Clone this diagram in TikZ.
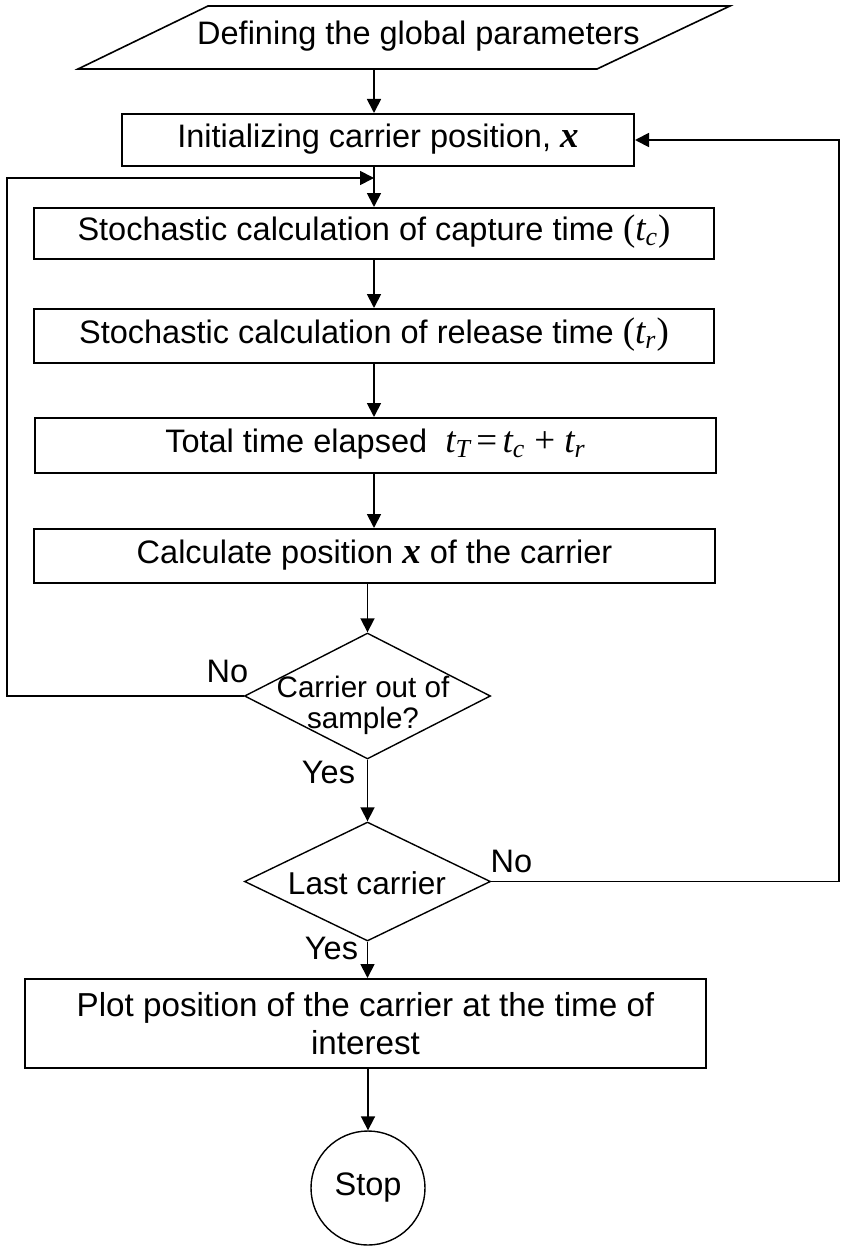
\documentclass[tikz,border=0pt]{standalone}
\usepackage{fontspec}
\setmainfont{Liberation Sans}
\newfontfamily\tnr{Liberation Serif}
\usetikzlibrary{arrows.meta,shapes.geometric}
% serif type used for the variables and operators
\newcommand{\serifset}{\tnr\fontsize{18.5pt}{19pt}\selectfont}
% italic serif variable with an italic subscript
\newcommand{\mvar}[2]{{\serifset\itshape #1\textsubscript{#2}}}

\begin{document}
\begin{tikzpicture}[x=0.5pt,y=-0.5pt,
  every node/.style={font=\fontsize{16.25pt}{19pt}\selectfont},
  procbox/.style={draw,line width=1pt,rectangle,inner sep=0pt,
    text height=0.716em,text depth=0pt},
  decision/.style={draw,line width=0.7pt,shape=diamond,inner sep=0pt,
    minimum width=123pt},
  lbl/.style={anchor=base,inner sep=0pt},
  flow/.style={line width=0.9pt,-{Triangle[length=7pt,width=7pt]}},
  wire/.style={line width=0.9pt}
]
\useasboundingbox (0,0) rectangle (842,1247);

% input parallelogram
\draw[line width=0.8pt] (208,6) -- (730,6) -- (597,69) -- (78,69) -- cycle;
\node[lbl] (deftext) at (418.5,45) {Defining the global parameters};
\coordinate (defb) at (374,69);

% process steps
\node[procbox,minimum width=256pt,minimum height=26pt] (init) at (378,140)
  {Initializing carrier position, {\serifset\bfseries\itshape x}};
\node[procbox,minimum width=340pt,minimum height=25.5pt] (cap) at (374,233.5)
  {Stochastic calculation of capture time {\serifset(}\mvar{t}{c}{\serifset)}};
\node[procbox,minimum width=340pt,minimum height=27pt] (rel) at (374,336)
  {Stochastic calculation of release time {\serifset(}\mvar{t}{r}{\serifset)}};
\node[procbox,minimum width=340.5pt,minimum height=27.5pt] (tot) at (375.5,445.5)
  {Total time elapsed\ \ \mvar{t}{T}\,{\serifset=}\,\mvar{t}{c} {\serifset+} \mvar{t}{r}};
\node[procbox,minimum width=340.5pt,minimum height=27pt] (calc) at (374.5,556)
  {Calculate position {\serifset\bfseries\itshape x} of the carrier};

% decisions
\node[decision,minimum height=63pt] (d1) at (367.5,696) {};
\node[inner sep=0pt,align=center,font=\fontsize{14.8pt}{15.5pt}\selectfont]
  (d1text) at (363,705) {Carrier out of\\sample?};
\node[decision,minimum height=59.5pt] (d2) at (367.5,881.5) {};
\node[inner sep=0pt,font=\fontsize{15.8pt}{19pt}\selectfont]
  (d2text) at (367,883.5) {Last carrier};

% output and terminal
\node[draw,line width=1pt,rectangle,inner sep=0pt,align=center,
  minimum width=340.5pt,minimum height=44.5pt,
  font=\fontsize{16.6pt}{19pt}\selectfont] (plot) at (365.5,1023.5)
  {Plot position of the carrier at the time of\\interest};
\node[draw,line width=0.7pt,circle,inner sep=0pt,minimum size=57pt] (stop)
  at (368,1188) {Stop};

% branch labels
\node[lbl] (no1) at (227.5,682) {No};
\node[lbl] (yes1) at (328.5,783) {Yes};
\node[lbl] (no2) at (511.5,872) {No};
\node[lbl] (yes2) at (331.5,959) {Yes};

% loop corners
\coordinate (lft) at (7,0);
\coordinate (rgt) at (839,0);
\coordinate (join) at (374,178);

% main flow
\draw[flow] (defb) -- (defb |- init.north);
\draw[flow] (defb |- init.south) -- (cap.north -| defb);
\draw[flow] (cap.south -| defb) -- (rel.north -| defb);
\draw[flow] (rel.south -| defb) -- (tot.north -| defb);
\draw[flow] (tot.south -| defb) -- (calc.north -| defb);
\draw[flow] (calc.south -| d1.north) -- (d1.north);
\draw[flow] (d1.south) -- (d2.north);
\draw[flow] (d2.south) -- (d2.south |- plot.north);
\draw[flow] (plot.south -| stop.north) -- (stop.north);

% feedback loops
\draw[flow] (d1.west) -- (d1.west -| lft) |- (join);
\draw[flow] (d2.east) -- (d2.east -| rgt) |- (init.east);
\end{tikzpicture}
\end{document}
